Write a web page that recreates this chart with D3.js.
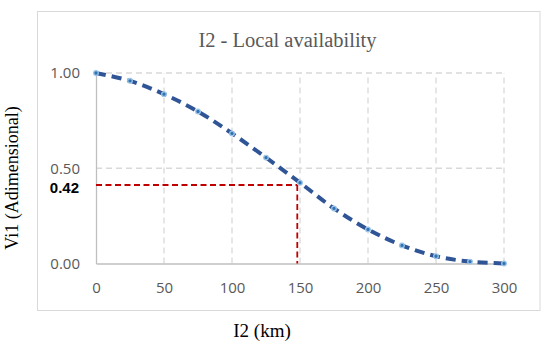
<!DOCTYPE html>
<html>
<head>
<meta charset="utf-8">
<script src="https://cdn.jsdelivr.net/npm/d3@7"></script>
<style>
  body { margin: 0; background: #fff; }
  svg { display: block; }
</style>
</head>
<body>
<div id="chart"></div>
<script>
// data
var distances = [0, 25, 50, 75, 100, 125, 150, 175, 200, 225, 250, 275, 300]
var availability = [1.0, 0.959, 0.889, 0.798, 0.683, 0.556, 0.424, 0.289, 0.179, 0.095, 0.038, 0.01, 0.0]
var xTicks = [0, 50, 100, 150, 200, 250, 300]
var yTicks = [0, 0.5, 1.0]
var refX = [148]
var refY = [0.412]
var refLabel = ["0.42"]

var width = 550, height = 351

var svg = d3.select('#chart')
  .append('svg')
  .attr('width', width)
  .attr('height', height)

// chart frame
svg.append('rect')
  .attr('x', 37.5).attr('y', 11.5)
  .attr('width', 502.5).attr('height', 299)
  .attr('fill', '#fff')
  .attr('stroke', '#d9d9d9')
  .attr('stroke-width', 1)

var x = d3.scaleLinear().domain([0, 300]).range([96, 504])
var y = d3.scaleLinear().domain([0, 1]).range([263.5, 73])

// gridlines
var grid = svg.append('g')
grid.selectAll('line.vg')
  .data(xTicks.filter(function(d) { return d > 0 }))
  .enter().append('line')
  .attr('x1', function(d) { return x(d) }).attr('x2', function(d) { return x(d) })
  .attr('y1', y(0)).attr('y2', y(1))
  .attr('stroke', '#d9d9d9').attr('stroke-width', 1.3)
  .attr('stroke-dasharray', '6,4')
grid.selectAll('line.hg')
  .data(yTicks.filter(function(d) { return d > 0 }))
  .enter().append('line')
  .attr('x1', x(0)).attr('x2', x(300))
  .attr('y1', function(d) { return y(d) }).attr('y2', function(d) { return y(d) })
  .attr('stroke', '#d9d9d9').attr('stroke-width', 1.3)
  .attr('stroke-dasharray', '6,4')

// axes
var xAxis = svg.append('g')
  .attr('transform', 'translate(0,' + y(0) + ')')
  .call(d3.axisBottom(x).tickValues(xTicks).tickSize(0).tickPadding(19))
xAxis.select('.domain').attr('stroke', '#bfbfbf').attr('stroke-width', 1.3)
xAxis.selectAll('text')
  .attr('fill', '#595959')
  .style('font-family', 'Open Sans, sans-serif')
  .style('font-size', '15px')

var yAxis = svg.append('g')
  .attr('transform', 'translate(' + x(0) + ',0)')
  .call(d3.axisLeft(y).tickValues(yTicks).tickSize(0).tickPadding(16).tickFormat(d3.format('.2f')))
yAxis.select('.domain').attr('stroke', '#bfbfbf').attr('stroke-width', 1.3)
yAxis.selectAll('text')
  .attr('fill', '#595959')
  .style('font-family', 'Open Sans, sans-serif')
  .style('font-size', '15px')

// red reference lines
svg.append('line')
  .attr('x1', x(0)).attr('x2', x(refX[0]))
  .attr('y1', y(refY[0])).attr('y2', y(refY[0]))
  .attr('stroke', '#c00000').attr('stroke-width', 1.8)
  .attr('stroke-dasharray', '6,3.5')
svg.append('line')
  .attr('x1', x(refX[0])).attr('x2', x(refX[0]))
  .attr('y1', y(refY[0])).attr('y2', y(0))
  .attr('stroke', '#c00000').attr('stroke-width', 1.8)
  .attr('stroke-dasharray', '6,3.5')
svg.append('text')
  .attr('x', 79).attr('y', y(refY[0]) + 8)
  .attr('text-anchor', 'end')
  .attr('fill', '#000')
  .style('font-family', 'Liberation Sans, Arial, sans-serif')
  .style('font-weight', 'bold')
  .style('font-size', '15px')
  .text(refLabel[0])

// the curve
var points = distances.map(function(d, i) { return [d, availability[i]] })
var line = d3.line()
  .x(function(d) { return x(d[0]) })
  .y(function(d) { return y(d[1]) })
  .curve(d3.curveCatmullRom.alpha(0.5))
svg.append('path')
  .datum(points)
  .attr('fill', 'none')
  .attr('stroke', '#2f5597')
  .attr('stroke-width', 4)
  .attr('stroke-dasharray', '10,6')
  .attr('d', line)

svg.selectAll('circle.pt')
  .data(points)
  .enter().append('circle')
  .attr('cx', function(d) { return x(d[0]) })
  .attr('cy', function(d) { return y(d[1]) })
  .attr('r', 2.3)
  .attr('fill', '#2e75b6')
  .attr('stroke', '#9dc3e6')
  .attr('stroke-width', 1.3)

// titles
svg.append('text')
  .attr('x', 287.5).attr('y', 47)
  .attr('text-anchor', 'middle')
  .attr('fill', '#595959')
  .style('font-family', 'Liberation Serif, serif')
  .style('font-size', '20.5px')
  .text('I2 - Local availability')

svg.append('text')
  .attr('x', 262).attr('y', 337)
  .attr('text-anchor', 'middle')
  .attr('fill', '#000')
  .style('font-family', 'Liberation Serif, serif')
  .style('font-size', '19px')
  .text('I2 (km)')

svg.append('text')
  .attr('transform', 'translate(18,178) rotate(-90)')
  .attr('text-anchor', 'middle')
  .attr('fill', '#000')
  .style('font-family', 'Liberation Serif, serif')
  .style('font-size', '18px')
  .text('Vi1 (Adimensional)')
</script>
</body>
</html>
